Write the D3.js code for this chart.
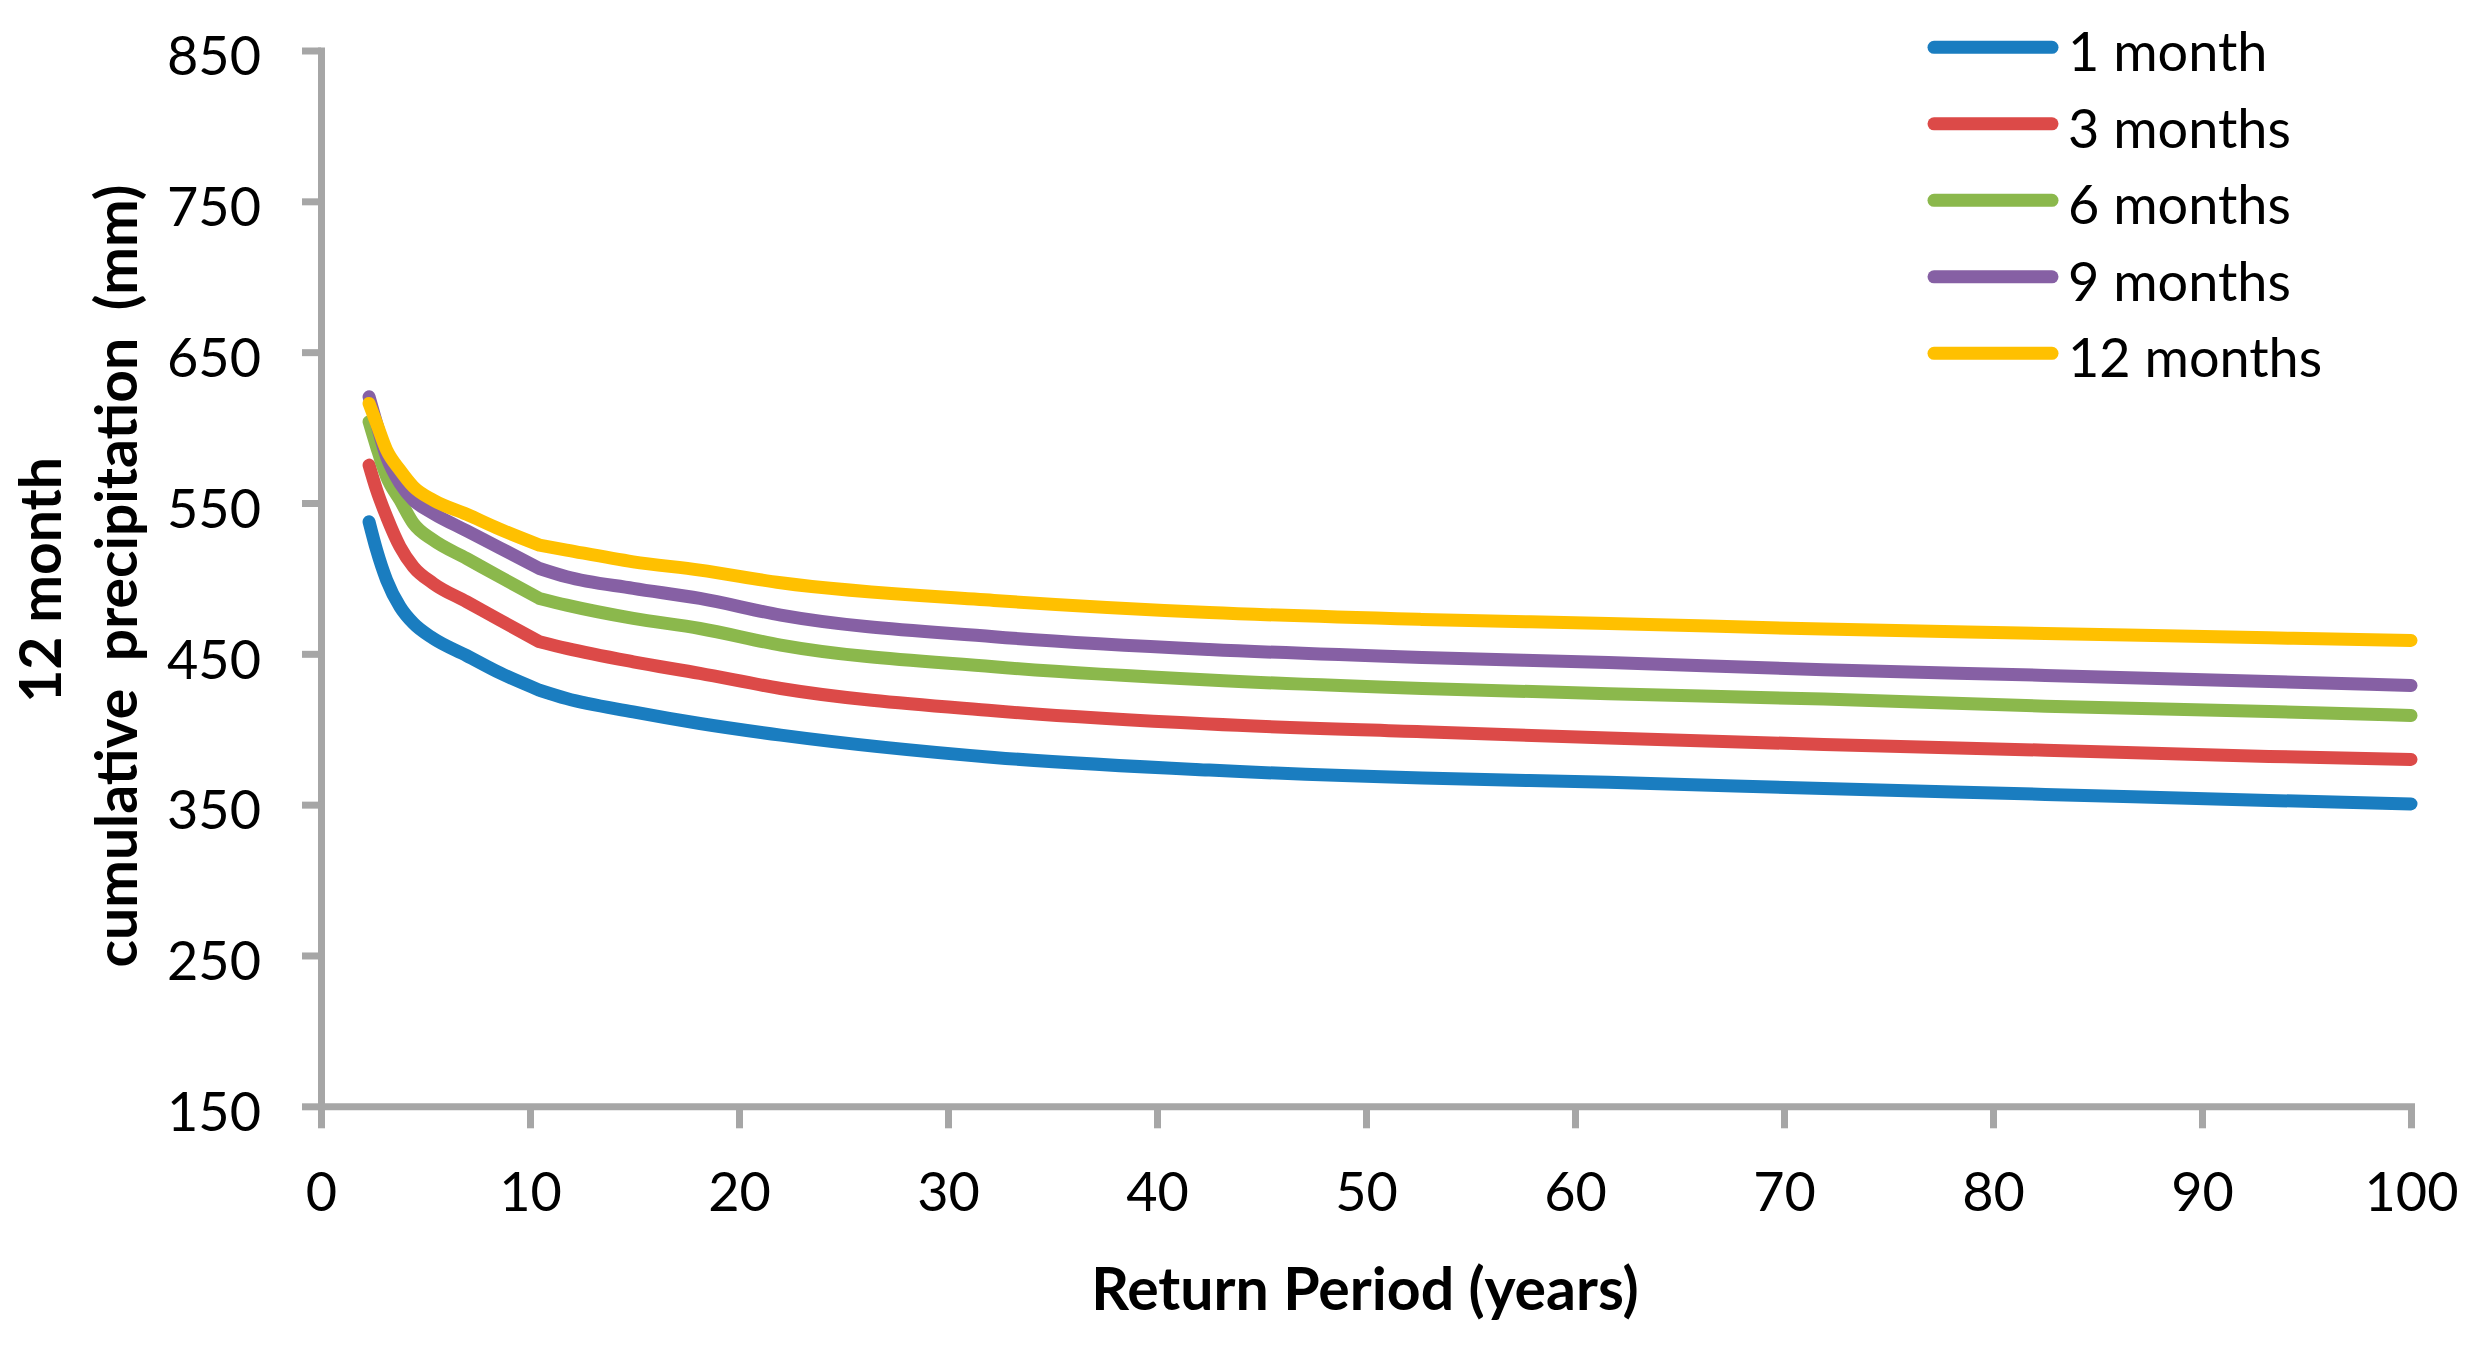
<!DOCTYPE html>
<html>
<head>
<meta charset="utf-8">
<script src="https://cdn.jsdelivr.net/npm/d3@7"></script>
<style>
  html, body { margin: 0; padding: 0; background: #ffffff; }
  svg { display: block; }
  text { font-family: Lato, "Open Sans", sans-serif; fill: #000; }
</style>
</head>
<body>
<svg id="chart" width="2473" height="1345"></svg>
<script>
// ---------------- data ----------------
const returnPeriod = [2.3, 2.66, 3.14, 3.78, 4.42, 5.37, 6.97, 8.56, 10.45, 11.75, 14.94, 18.13, 22.0, 32.2, 42.5, 52.7, 61.6, 71.9, 82.5, 93.2, 100];

const seriesNames = ["1 month", "3 months", "6 months", "9 months", "12 months"];

const month1  = [537.5, 518.8, 498.9, 481.2, 470.2, 460.2, 448.8, 437.3, 425.9, 420.4, 411.5, 403.8, 396.1, 381.3, 372.9, 367.6, 364.8, 360.7, 356.8, 352.8, 350.5];
const month3  = [575.1, 558.6, 540.9, 521.0, 507.7, 496.7, 484.5, 472.3, 458.0, 453.6, 444.7, 437.0, 427.0, 412.2, 403.4, 398.3, 394.2, 389.9, 386.1, 382.0, 380.0];
const month6  = [603.9, 587.3, 567.4, 551.9, 536.5, 525.4, 513.2, 501.0, 486.7, 482.3, 473.5, 466.8, 455.8, 441.4, 432.6, 427.0, 423.6, 420.0, 415.3, 411.8, 409.1];
const month9  = [620.4, 602.8, 580.6, 563.0, 551.9, 543.1, 531.6, 520.2, 506.6, 501.1, 493.4, 486.7, 475.7, 461.3, 452.9, 447.6, 444.2, 439.4, 435.7, 431.7, 429.0];
const month12 = [616.0, 602.8, 585.1, 571.8, 560.8, 551.9, 542.5, 532.6, 522.1, 518.8, 511.0, 505.5, 497.1, 485.4, 477.4, 472.8, 470.1, 466.4, 463.5, 460.6, 458.9];

const seriesColors = ["#1a7dc0", "#dc4a48", "#8bb84c", "#8660a4", "#ffc000"];

const xTicks = [0, 10, 20, 30, 40, 50, 60, 70, 80, 90, 100];
const yTicks = [150, 250, 350, 450, 550, 650, 750, 850];

const xTitle = "Return Period (years)";
const yTitle1 = "12 month";
const yTitle2 = "cumulative  precipitation  (mm)";

// ---------------- layout ----------------
const svg = d3.select("#chart");
const plotLeft = 321, plotRight = 2411, plotTop = 50.5, plotBottom = 1106.3;
const axisColor = "#a6a6a6";
const fontSize = 54;
const titleSize = 58;
const lineWidth = 13;
const breakX = 10.45;

const x = d3.scaleLinear().domain([0, 100]).range([plotLeft, plotRight]);
const y = d3.scaleLinear().domain([150, 850]).range([plotBottom, plotTop]);

const seriesData = [month1, month3, month6, month9, month12].map((vals, i) => ({
  name: seriesNames[i],
  color: seriesColors[i],
  points: vals.map((v, j) => ({ x: returnPeriod[j], y: v }))
}));

// axes
const xAxis = d3.axisBottom(x).tickValues(xTicks).tickSize(22).tickSizeOuter(0).tickPadding(44);
const yAxis = d3.axisLeft(y).tickValues(yTicks).tickSize(19).tickSizeOuter(0).tickPadding(41);

const gx = svg.append("g").attr("transform", `translate(0,${plotBottom})`).call(xAxis);
const gy = svg.append("g").attr("transform", `translate(${plotLeft},0)`).call(yAxis);

[gx, gy].forEach(g => {
  g.select(".domain").attr("stroke", axisColor).attr("stroke-width", 7).attr("stroke-linecap", "square");
  g.selectAll(".tick line").attr("stroke", axisColor).attr("stroke-width", 7);
  g.selectAll(".tick text")
    .attr("fill", "#000")
    .style("font-family", "Lato, 'Open Sans', sans-serif")
    .style("font-size", fontSize + "px");
});
gy.selectAll(".tick text").attr("dy", "0.45em");

// lines (smooth pieces joined at the visible break near 10 years)
const line = d3.line().x(d => x(d.x)).y(d => y(d.y)).curve(d3.curveMonotoneX);
function seriesPath(pts) {
  const a = pts.filter(p => p.x <= breakX);
  const b = pts.filter(p => p.x >= breakX);
  return line(a) + line(b).replace(/^M/, "L");
}
svg.append("g").selectAll("path")
  .data(seriesData)
  .join("path")
  .attr("d", d => seriesPath(d.points))
  .attr("fill", "none")
  .attr("stroke", d => d.color)
  .attr("stroke-width", lineWidth)
  .attr("stroke-linejoin", "round")
  .attr("stroke-linecap", "round");

// legend
const legendY0 = 47.3, legendStep = 76.5;
const lg = svg.append("g");
const items = lg.selectAll("g").data(seriesData).join("g")
  .attr("transform", (d, i) => `translate(0,${legendY0 + i * legendStep})`);
items.append("line")
  .attr("x1", 1934).attr("x2", 2052).attr("y1", 0).attr("y2", 0)
  .attr("stroke", d => d.color).attr("stroke-width", lineWidth).attr("stroke-linecap", "round");
items.append("text")
  .attr("x", 2068).attr("y", 24)
  .style("font-size", fontSize + "px")
  .text(d => d.name);

// axis titles
svg.append("text")
  .attr("x", 1365).attr("y", 1310)
  .attr("text-anchor", "middle")
  .style("font-size", (titleSize + 1) + "px").style("font-weight", "bold")
  .text(xTitle);

svg.append("text")
  .attr("transform", "translate(61,580) rotate(-90)")
  .attr("text-anchor", "middle")
  .style("font-size", (titleSize - 1) + "px").style("font-weight", "bold")
  .text(yTitle1);

svg.append("text")
  .attr("transform", "translate(137,576) rotate(-90)")
  .attr("text-anchor", "middle")
  .style("font-size", (titleSize - 1) + "px").style("font-weight", "bold")
  .style("white-space", "pre")
  .text(yTitle2);
</script>
</body>
</html>
